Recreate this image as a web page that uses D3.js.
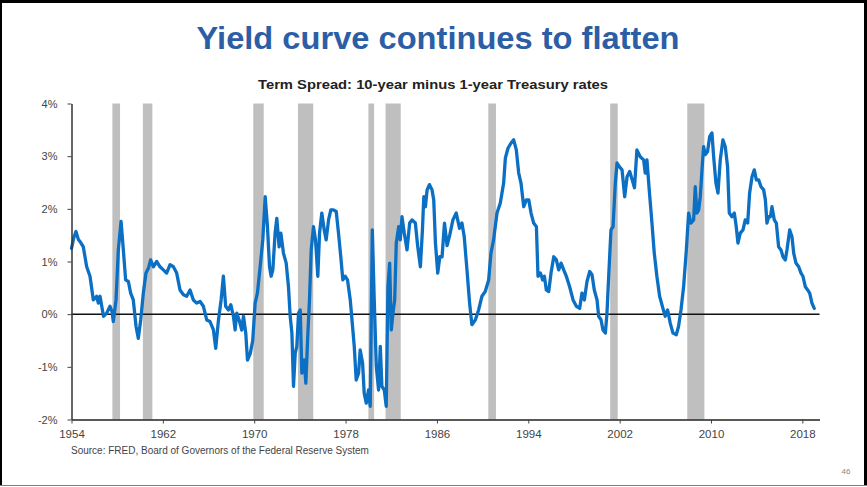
<!DOCTYPE html>
<html>
<head>
<meta charset="utf-8">
<script src="https://cdn.jsdelivr.net/npm/d3@7"></script>
<style>
  html, body { margin: 0; padding: 0; background: #fff; }
  svg { display: block; font-family: "Liberation Sans", Arial, sans-serif; }
</style>
</head>
<body>
<svg id="chart" width="867" height="487"></svg>
<script>
// Term spread (10-year minus 1-year Treasury), percentage points
const years = [
  1954.0, 1954.2, 1954.39, 1954.6, 1954.74, 1955.03, 1955.33, 1955.62, 1955.91, 1956.2,
  1956.35, 1956.5, 1956.8, 1957.08, 1957.37, 1957.55, 1957.66, 1957.9, 1958.1, 1958.34,
  1958.54, 1958.74, 1958.98, 1959.18, 1959.41, 1959.65, 1959.85, 1960.06, 1960.29, 1960.52,
  1960.73, 1960.93, 1961.17, 1961.46, 1961.75, 1962.04, 1962.33, 1962.63, 1962.92, 1963.21,
  1963.5, 1963.8, 1964.09, 1964.38, 1964.67, 1964.96, 1965.26, 1965.55, 1965.84, 1966.13,
  1966.43, 1966.63, 1966.87, 1967.1, 1967.3, 1967.5, 1967.74, 1967.95, 1968.18, 1968.33,
  1968.47, 1968.68, 1968.91, 1969.06, 1969.26, 1969.41, 1969.65, 1969.87, 1970.08, 1970.28,
  1970.52, 1970.75, 1970.96, 1971.16, 1971.34, 1971.48, 1971.63, 1971.83, 1971.98, 1972.18,
  1972.33, 1972.56, 1972.8, 1973.0, 1973.15, 1973.3, 1973.44, 1973.59, 1973.73, 1973.88,
  1974.03, 1974.17, 1974.38, 1974.52, 1974.7, 1974.84, 1974.99, 1975.19, 1975.37, 1975.57,
  1975.72, 1975.92, 1976.13, 1976.3, 1976.51, 1976.71, 1976.94, 1977.18, 1977.38, 1977.58,
  1977.76, 1977.97, 1978.17, 1978.41, 1978.61, 1978.76, 1978.93, 1979.14, 1979.28, 1979.49,
  1979.63, 1979.81, 1980.01, 1980.16, 1980.34, 1980.51, 1980.69, 1980.89, 1981.04, 1981.18,
  1981.39, 1981.56, 1981.71, 1981.86, 1982.0, 1982.15, 1982.3, 1982.44, 1982.65, 1982.79,
  1982.94, 1983.14, 1983.38, 1983.61, 1983.82, 1984.11, 1984.32, 1984.55, 1984.73, 1984.85,
  1984.99, 1985.14, 1985.34, 1985.57, 1985.72, 1985.87, 1986.07, 1986.25, 1986.45, 1986.66,
  1986.89, 1987.12, 1987.4, 1987.69, 1987.98, 1988.19, 1988.39, 1988.63, 1988.86, 1989.06,
  1989.36, 1989.65, 1989.94, 1990.23, 1990.53, 1990.73, 1990.96, 1991.26, 1991.55, 1991.84,
  1991.99, 1992.22, 1992.49, 1992.72, 1992.95, 1993.16, 1993.36, 1993.6, 1993.83, 1994.04,
  1994.24, 1994.47, 1994.71, 1994.85, 1995.06, 1995.26, 1995.41, 1995.58, 1995.79, 1995.99,
  1996.23, 1996.46, 1996.66, 1996.87, 1997.1, 1997.33, 1997.62, 1997.92, 1998.21, 1998.5,
  1998.7, 1998.91, 1999.14, 1999.38, 1999.58, 1999.78, 2000.02, 2000.16, 2000.37, 2000.54,
  2000.75, 2000.89, 2001.04, 2001.24, 2001.42, 2001.62, 2001.77, 2001.97, 2002.21, 2002.44,
  2002.65, 2002.88, 2003.1, 2003.3, 2003.51, 2003.8, 2004.1, 2004.24, 2004.39, 2004.59,
  2004.83, 2005.03, 2005.26, 2005.5, 2005.79, 2005.99, 2006.2, 2006.43, 2006.67, 2006.96,
  2007.16, 2007.37, 2007.6, 2007.84, 2008.04, 2008.24, 2008.48, 2008.62, 2008.77, 2008.92,
  2009.06, 2009.21, 2009.35, 2009.5, 2009.7, 2009.88, 2010.08, 2010.23, 2010.43, 2010.61,
  2010.81, 2011.04, 2011.25, 2011.45, 2011.6, 2011.83, 2012.04, 2012.21, 2012.36, 2012.56,
  2012.8, 2013.0, 2013.21, 2013.38, 2013.59, 2013.79, 2013.97, 2014.17, 2014.38, 2014.61,
  2014.76, 2014.9, 2015.05, 2015.2, 2015.34, 2015.54, 2015.72, 2015.92, 2016.13, 2016.3,
  2016.51, 2016.65, 2016.89, 2017.09, 2017.24, 2017.44, 2017.68, 2017.88, 2018.05, 2018.26,
  2018.46, 2018.64, 2018.84, 2019.04
];
const spread = [
  1.25, 1.45, 1.57, 1.42, 1.38, 1.28, 0.9, 0.72, 0.27, 0.34,
  0.21, 0.34, -0.04, 0.02, 0.15, 0.05, -0.14, 0.27, 1.22, 1.76,
  1.22, 0.65, 0.62, 0.4, 0.27, -0.23, -0.46, -0.11, 0.4, 0.78,
  0.87, 1.03, 0.9, 1.0, 0.9, 0.84, 0.78, 0.94, 0.9, 0.78,
  0.46, 0.37, 0.34, 0.46, 0.27, 0.21, 0.24, 0.15, -0.11, -0.14,
  -0.3, -0.65, -0.11, 0.27, 0.72, 0.15, 0.08, 0.18, -0.04, -0.3,
  0.02, -0.11, -0.3, -0.04, -0.36, -0.87, -0.75, -0.5, 0.21, 0.4,
  0.9, 1.41, 2.23, 1.66, 0.9, 0.72, 0.84, 1.54, 1.82, 1.28,
  1.54, 1.16, 0.97, 0.52, -0.04, -0.36, -1.37, -0.74, -0.61, 0.02,
  0.08, -1.12, -0.87, -1.31, -0.36, 0.27, 1.22, 1.66, 1.41, 0.72,
  1.54, 1.92, 1.6, 1.41, 1.79, 1.98, 1.98, 1.95, 1.54, 1.09,
  0.65, 0.72, 0.65, 0.27, -0.23, -0.61, -1.25, -1.12, -0.68, -0.93,
  -1.5, -1.69, -1.44, -1.75, 1.6, 0.27, -0.99, -1.44, -0.61, -1.37,
  -1.44, -1.75, 0.52, 0.97, -0.3, 0.02, 0.27, 1.35, 1.66, 1.41,
  1.85, 1.54, 1.22, 1.73, 1.79, 1.73, 1.28, 0.9, 1.6, 2.23,
  2.04, 2.36, 2.46, 2.36, 2.17, 1.35, 0.78, 1.09, 1.09, 1.73,
  1.3, 1.5, 1.79, 1.92, 1.63, 1.73, 1.47, 0.84, 0.21, -0.2,
  -0.11, 0.08, 0.34, 0.43, 0.65, 1.16, 1.41, 1.92, 2.11, 2.49,
  2.96, 3.15, 3.25, 3.31, 3.12, 2.68, 2.49, 2.04, 2.17, 2.17,
  1.92, 1.73, 1.66, 0.72, 0.78, 0.65, 0.72, 0.46, 0.43, 0.78,
  1.09, 1.03, 0.84, 0.97, 0.84, 0.72, 0.52, 0.27, 0.15, 0.11,
  0.4, 0.27, 0.62, 0.81, 0.75, 0.46, 0.27, -0.04, -0.11, -0.3,
  -0.36, 0.02, 0.72, 1.6, 1.66, 2.49, 2.87, 2.8, 2.74, 2.23,
  2.61, 2.71, 2.55, 2.4, 3.12, 2.99, 2.93, 2.68, 2.93, 2.36,
  1.73, 1.16, 0.72, 0.34, 0.11, -0.04, 0.08, -0.17, -0.36, -0.39,
  -0.23, 0.08, 0.52, 1.22, 1.92, 1.73, 1.79, 2.42, 1.92, 1.98,
  2.23, 2.74, 3.18, 3.03, 3.09, 3.37, 3.44, 2.99, 2.49, 2.3,
  2.93, 3.31, 3.18, 2.8, 1.92, 1.85, 1.92, 1.66, 1.35, 1.54,
  1.6, 1.79, 1.73, 2.3, 2.61, 2.74, 2.55, 2.55, 2.42, 2.36,
  2.17, 1.73, 1.85, 1.85, 2.04, 1.79, 1.73, 1.28, 1.22, 1.09,
  1.03, 1.22, 1.6, 1.47, 1.16, 0.97, 0.9, 0.78, 0.72, 0.52,
  0.46, 0.4, 0.21, 0.11
];

// NBER recession periods (start, end) as decimal years
const recessionStart = [1957.58, 1960.25, 1969.92, 1973.83, 1980.0, 1981.5, 1990.5, 2001.17, 2007.92];
const recessionEnd   = [1958.25, 1961.08, 1970.83, 1975.17, 1980.5, 1982.83, 1991.17, 2001.83, 2009.42];

const xTickYears = [1954, 1962, 1970, 1978, 1986, 1994, 2002, 2010, 2018];
const yTickValues = [-2, -1, 0, 1, 2, 3, 4];

const titleText = "Yield curve continues to flatten";
const subtitleText = "Term Spread: 10-year minus 1-year Treasury rates";
const sourceText = "Source: FRED, Board of Governors of the Federal Reserve System";
const pageNumber = "46";

const svg = d3.select("#chart");
const W = 867, H = 487;

// Slide frame
svg.append("line").attr("x1", 0).attr("x2", W).attr("y1", 1.5).attr("y2", 1.5)
  .attr("stroke", "#000").attr("stroke-width", 3);
svg.append("line").attr("x1", 1).attr("x2", 1).attr("y1", 0).attr("y2", 486)
  .attr("stroke", "#000").attr("stroke-width", 2);
svg.append("line").attr("x1", 865.5).attr("x2", 865.5).attr("y1", 0).attr("y2", 486)
  .attr("stroke", "#000").attr("stroke-width", 3);
svg.append("line").attr("x1", 0).attr("x2", W).attr("y1", 485.5).attr("y2", 485.5)
  .attr("stroke", "#7f7f7f").attr("stroke-width", 1);

// Title and subtitle
svg.append("text").attr("x", 438).attr("y", 49).attr("text-anchor", "middle")
  .attr("font-size", 31).attr("font-weight", "bold").attr("fill", "#2c5ea6")
  .attr("textLength", 483).attr("lengthAdjust", "spacingAndGlyphs")
  .text(titleText);
svg.append("text").attr("x", 433).attr("y", 89).attr("text-anchor", "middle")
  .attr("font-size", 13.5).attr("font-weight", "bold").attr("fill", "#222")
  .attr("textLength", 350).attr("lengthAdjust", "spacingAndGlyphs")
  .text(subtitleText);

// Scales
const x = d3.scaleLinear().domain([1954, 2019.5]).range([71.5, 819.5]);
const y = d3.scaleLinear().domain([-2, 4]).range([419.5, 103.5]);

// Recession shading
svg.append("g").selectAll("rect")
  .data(d3.range(recessionStart.length))
  .join("rect")
  .attr("x", i => x(recessionStart[i]))
  .attr("width", i => x(recessionEnd[i]) - x(recessionStart[i]))
  .attr("y", y(4))
  .attr("height", y(-2) - y(4))
  .attr("fill", "#bfbfbf");

// Zero line
svg.append("line")
  .attr("x1", x(1954)).attr("x2", x(2019.5))
  .attr("y1", y(0)).attr("y2", y(0))
  .attr("stroke", "#111").attr("stroke-width", 1.5);

// Spread line
const line = d3.line()
  .x((d, i) => x(years[i]))
  .y(d => y(d));
svg.append("path")
  .datum(spread)
  .attr("d", line)
  .attr("fill", "none")
  .attr("stroke", "#0b6fc3")
  .attr("stroke-width", 3.3)
  .attr("stroke-linejoin", "round")
  .attr("stroke-linecap", "round");

// Axes
const xAxis = d3.axisBottom(x).tickValues(xTickYears).tickFormat(d3.format("d"))
  .tickSize(4).tickSizeOuter(0).tickPadding(6);
const gx = svg.append("g").attr("transform", `translate(0,${y(-2)})`).call(xAxis);
gx.select(".domain").attr("stroke", "#222").attr("stroke-width", 1.5);
gx.selectAll(".tick line").attr("stroke", "#444");
gx.selectAll(".tick text").attr("font-size", 11.5).attr("fill", "#444")
  .attr("font-family", "'Liberation Sans', Arial, sans-serif");

const yAxis = d3.axisLeft(y).tickValues(yTickValues).tickFormat(d => d + "%")
  .tickSize(4).tickSizeOuter(0).tickPadding(10);
const gy = svg.append("g").attr("transform", `translate(${x(1954)},0)`).call(yAxis);
gy.select(".domain").attr("stroke", "#333").attr("stroke-width", 1.5);
gy.selectAll(".tick line").attr("stroke", "#444");
gy.selectAll(".tick text").attr("font-size", 11).attr("fill", "#444")
  .attr("font-family", "'Liberation Sans', Arial, sans-serif");

// Source note and page number
svg.append("text").attr("x", 71).attr("y", 454).attr("font-size", 10)
  .attr("fill", "#444").text(sourceText);
svg.append("text").attr("x", 846).attr("y", 474).attr("text-anchor", "middle")
  .attr("font-size", 8).attr("fill", "#888").text(pageNumber);
</script>
</body>
</html>
